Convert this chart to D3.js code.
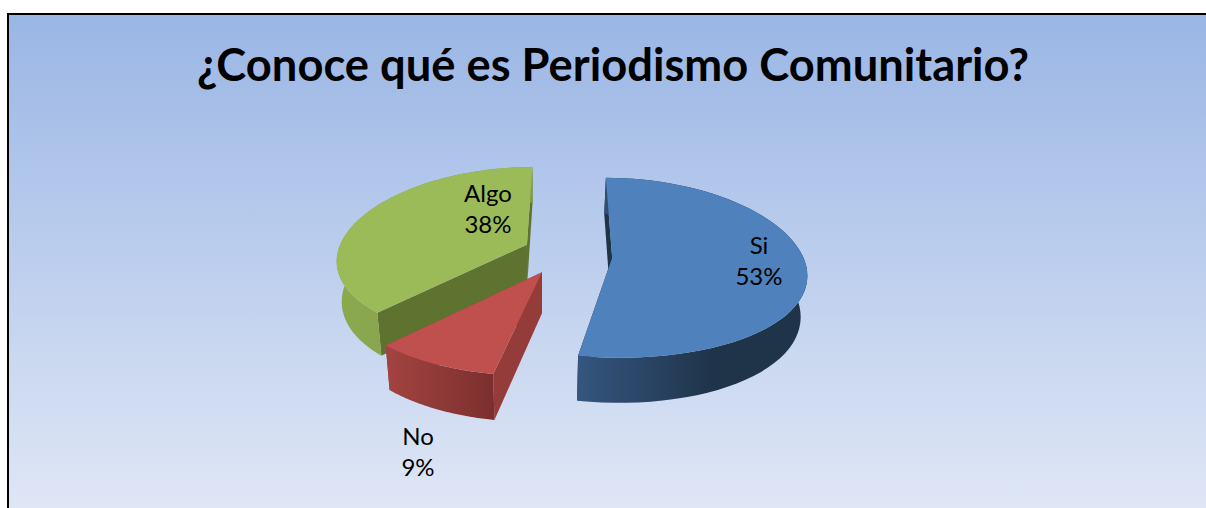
<!DOCTYPE html>
<html>
<head>
<meta charset="utf-8">
<script src="https://cdnjs.cloudflare.com/ajax/libs/d3/7.8.5/d3.min.js"></script>
<style>
  html, body { margin: 0; padding: 0; background: #fff; overflow: hidden; }
  text { font-family: Lato, "Noto Sans", sans-serif; fill: #000; }
</style>
</head>
<body>
<div id="content"></div>
<script>
var chartTitle = '¿Conoce qué es Periodismo Comunitario?';
var categories = ['Si', 'No', 'Algo'];
var percents = [53, 9, 38];

// slice colours, same order as categories
var topColors = ['#4f81bd', '#bf504d', '#9bbb59'];
var wallColors = ['#1f3349', '#943c3a', '#5f7331'];
var arcColors = [['#35567f', '#1f3349'], ['#a34441', '#7b2f2d'], ['#8ba94f', '#7f9c49']];

var width = 1206, height = 508;

var svg = d3.select('#content').append('svg')
  .attr('width', width)
  .attr('height', height)
  .style('display', 'block');

var defs = svg.append('defs');

var bg = defs.append('linearGradient')
  .attr('id', 'bg').attr('x1', 0).attr('y1', 0).attr('x2', 0).attr('y2', 1);
bg.append('stop').attr('offset', '0%').attr('stop-color', '#9ab6e5');
bg.append('stop').attr('offset', '100%').attr('stop-color', '#e1e8f6');

// frame runs off the right and bottom of the picture
svg.append('rect')
  .attr('x', 8).attr('y', 14)
  .attr('width', width + 10).attr('height', height)
  .attr('fill', 'url(#bg)')
  .attr('stroke', '#000')
  .attr('stroke-width', 2);

svg.append('text')
  .attr('x', 613)
  .attr('y', 81)
  .attr('text-anchor', 'middle')
  .style('font-size', '45.3px')
  .style('font-weight', 700)
  .text(chartTitle);

// pie layout, clockwise from the top
var pie = d3.pie().sort(null);
var slices = pie(percents);

// 3d view of the pie: plane coords x,y in pie radii, z = 0 top face, 1 bottom face
var view = { cx: 567, cy: 254, rx: 190, ry: 88, perspX: 0.16, perspY: 0.11, depth: 40, shrink: 0.025, axis: 540 };
var explode = 0.24, explodeTurn = 5 * Math.PI / 180;

function project(x, y, z) {
  var w = 1 + view.perspY * y;
  var sx = view.cx + view.rx * x / (1 + view.perspX * y);
  var sy = view.cy - view.ry * y / w + z * view.depth / w;
  sx = sx - (sx - view.axis) * view.shrink * z;
  return [sx, sy];
}

var line = d3.line();

slices.forEach(function(d, i) {
  var mid = (d.startAngle + d.endAngle) / 2 + explodeTurn;
  var ox = explode * Math.sin(mid), oy = explode * Math.cos(mid);
  d.ox = ox; d.oy = oy;
  d.arc = d3.range(0, 61).map(function(k) {
    var a = d.startAngle + (d.endAngle - d.startAngle) * k / 60;
    return [ox + Math.sin(a), oy + Math.cos(a)];
  });
});

function facePoints(d, z) {
  return [[d.ox, d.oy]].concat(d.arc).map(function(p) { return project(p[0], p[1], z); });
}

function drawSlice(d, i) {
  var g = svg.append('g').attr('class', 'slice');
  var n = d.arc.length - 1;

  // radial walls, the one further back first
  var ends = [d.arc[0], d.arc[n]].sort(function(a, b) { return b[1] - a[1]; });
  ends.forEach(function(e) {
    var wall = [project(d.ox, d.oy, 0), project(e[0], e[1], 0), project(e[0], e[1], 1), project(d.ox, d.oy, 1)];
    g.append('path').attr('d', line(wall) + 'Z').attr('fill', wallColors[i]);
  });

  // outer wall, shaded from left to right
  var top = d.arc.map(function(p) { return project(p[0], p[1], 0); });
  var bottom = d.arc.map(function(p) { return project(p[0], p[1], 1); }).reverse();
  var xs = d3.extent(top, function(p) { return p[0]; });
  var grad = defs.append('linearGradient')
    .attr('id', 'arc' + i)
    .attr('gradientUnits', 'userSpaceOnUse')
    .attr('x1', xs[0]).attr('y1', 0).attr('x2', xs[0] + (xs[1] - xs[0]) * (i === 0 ? 0.6 : 1)).attr('y2', 0);
  grad.append('stop').attr('offset', '0%').attr('stop-color', arcColors[i][0]);
  grad.append('stop').attr('offset', '100%').attr('stop-color', arcColors[i][1]);
  g.append('path').attr('d', line(top.concat(bottom)) + 'Z').attr('fill', 'url(#arc' + i + ')');

  // top face
  g.append('path').attr('d', line(facePoints(d, 0)) + 'Z').attr('fill', topColors[i]);
}

// back to front
[0, 2, 1].forEach(function(i) { drawSlice(slices[i], i); });

// data labels, two lines each
var labelX = [759, 418, 488];
var labelY = [254, 445, 202];
categories.forEach(function(c, i) {
  var t = svg.append('text')
    .attr('text-anchor', 'middle')
    .style('font-size', '24px');
  t.append('tspan').attr('x', labelX[i]).attr('y', labelY[i]).text(c);
  t.append('tspan').attr('x', labelX[i]).attr('y', labelY[i] + 31).text(percents[i] + '%');
});
</script>
</body>
</html>
